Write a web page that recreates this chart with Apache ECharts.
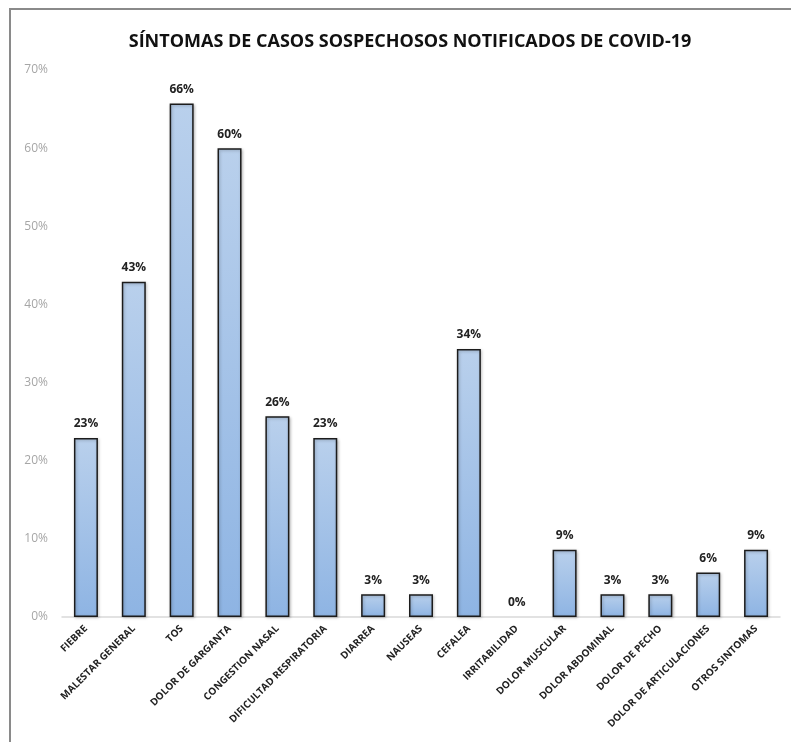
<!DOCTYPE html>
<html>
<head>
<meta charset="utf-8">
<script src="https://cdn.jsdelivr.net/npm/echarts@6/dist/echarts.min.js"></script>
<style>
  html, body { margin: 0; padding: 0; background: #fff; }
  #frame {
    position: absolute; left: 9px; top: 8px; right: 0; bottom: 0;
    border-left: 2px solid #8a8a8a; border-top: 2px solid #8a8a8a;
  }
  #myChart { position: absolute; left: 0; top: 0; width: 791px; height: 742px; }
</style>
</head>
<body>
<div id="frame"></div>
<div id="myChart"></div>
<script>
// síntomas (categorías del eje x)
const sintomas = [
  'FIEBRE', 'MALESTAR GENERAL', 'TOS', 'DOLOR DE GARGANTA', 'CONGESTION NASAL',
  'DIFICULTAD RESPIRATORIA', 'DIARREA', 'NAUSEAS', 'CEFALEA', 'IRRITABILIDAD',
  'DOLOR MUSCULAR', 'DOLOR ABDOMINAL', 'DOLOR DE PECHO', 'DOLOR DE ARTICULACIONES', 'OTROS SINTOMAS'
];
// porcentaje de casos
const porcentajes = [22.9, 42.9, 65.7, 60.0, 25.7, 22.9, 2.9, 2.9, 34.3, 0, 8.6, 2.9, 2.9, 5.7, 8.6];
// eje y
const yMin = 0;
const yMax = 70;
const yStep = 10;

const myChart = echarts.init(document.getElementById('myChart'));
const option = {
  backgroundColor: 'transparent',
  animation: false,
  title: {
    text: 'SÍNTOMAS DE CASOS SOSPECHOSOS NOTIFICADOS DE COVID-19',
    left: 405,
    textAlign: 'center',
    top: 28,
    textStyle: {
      fontFamily: 'Open Sans',
      fontWeight: 'bold',
      fontSize: 18,
      color: '#111',
    },
  },
  grid: {
    left: 62,
    right: 11,
    top: 70,
    bottom: 125,
  },
  xAxis: {
    type: 'category',
    data: sintomas,
    axisLine: { show: true, lineStyle: { color: '#d9d9d9', width: 1.5 } },
    axisTick: { show: false },
    axisLabel: {
      interval: 0,
      rotate: 45,
      margin: 10,
      fontFamily: 'Open Sans',
      fontWeight: 'bold',
      fontSize: 10,
      color: '#222',
    },
  },
  yAxis: {
    type: 'value',
    min: yMin,
    max: yMax,
    interval: yStep,
    axisLine: { show: false },
    axisTick: { show: false },
    splitLine: { show: false },
    axisLabel: {
      formatter: '{value}%',
      margin: 14,
      fontFamily: 'Open Sans',
      fontSize: 12,
      color: '#a6a6a6',
    },
  },
  series: [
    {
      type: 'bar',
      // las barras en cero no dibujan borde
      data: porcentajes.map((v) => (v === 0 ? { value: v, itemStyle: { borderWidth: 0, shadowBlur: 0 } } : v)),
      barWidth: 24,
      itemStyle: {
        color: new echarts.graphic.LinearGradient(0, 0, 0, 1, [
          { offset: 0, color: '#b9d0ec' },
          { offset: 1, color: '#8eb4e3' },
        ]),
        borderColor: '#1c1c1c',
        borderWidth: 1.5,
        shadowColor: 'rgba(0,0,0,0.25)',
        shadowBlur: 3,
        shadowOffsetX: 1,
        shadowOffsetY: 1,
      },
      label: {
        show: true,
        position: 'top',
        distance: 8,
        formatter: (p) => Math.round(p.value) + '%',
        fontFamily: 'Open Sans',
        fontWeight: 'bold',
        fontSize: 12,
        color: '#222',
      },
    },
  ],
};
myChart.setOption(option);
</script>
</body>
</html>
